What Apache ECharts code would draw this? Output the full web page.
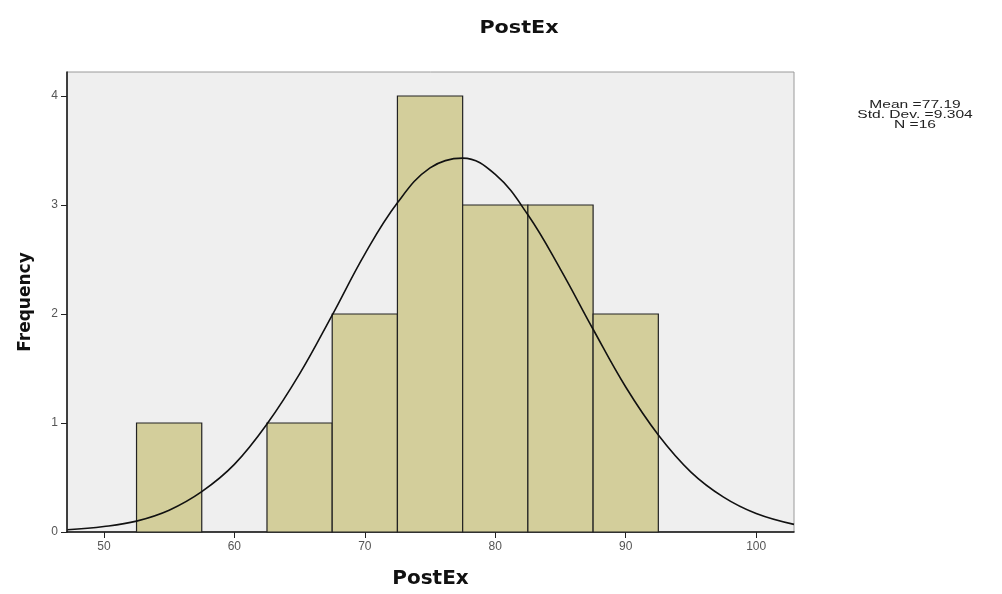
<!DOCTYPE html>
<html>
<head>
<meta charset="utf-8">
<script src="https://cdn.jsdelivr.net/npm/echarts@6/dist/echarts.min.js"></script>
<style>
  html, body { margin: 0; padding: 0; background: #fff; }
  #chart { width: 1002px; height: 594px; }
</style>
</head>
<body>
<div id="chart"></div>
<script>
// histogram bins (lower edge, upper edge) and counts
var binStart = [52.5, 62.5, 67.5, 72.5, 77.5, 82.5, 87.5];
var binEnd   = [57.5, 67.5, 72.5, 77.5, 82.5, 87.5, 92.5];
var counts   = [1, 1, 2, 4, 3, 3, 2];

// normal curve
var curveX = [47.2, 50, 52.5, 55, 57.5, 60, 62.5, 65, 67.5, 70, 72.5, 75, 77.5, 80, 82.5, 85, 87.5, 90, 92.5, 95, 97.5, 100, 102.9];
var curveY = [0.02, 0.05, 0.10, 0.20, 0.37, 0.62, 0.99, 1.45, 1.99, 2.55, 3.02, 3.34, 3.43, 3.28, 2.91, 2.41, 1.86, 1.33, 0.89, 0.55, 0.32, 0.17, 0.07];

var xTicks = [50, 60, 70, 80, 90, 100];
var yTicks = [0, 1, 2, 3, 4];
var statLines = ['Mean =77.19', 'Std. Dev. =9.304', 'N =16'];

var chart = echarts.init(document.getElementById('chart'));

var barData = binStart.map(function (s, i) {
  return [s, binEnd[i], counts[i]];
});
var lineData = curveX.map(function (x, i) {
  return [x, curveY[i]];
});

var option = {
  animation: false,
  backgroundColor: '#fff',
  textStyle: { fontFamily: 'Liberation Sans, Arial, sans-serif' },
  grid: {
    left: 67, right: 208, top: 72, bottom: 60,
    show: true,
    backgroundColor: '#efefef',
    borderColor: '#9a9a9a',
    borderWidth: 1
  },
  xAxis: {
    type: 'value',
    min: 47.17,
    max: 102.9,
    name: 'PostEx',
    nameLocation: 'middle',
    nameGap: 37,
    nameTextStyle: { fontSize: 20, fontWeight: 'bold', color: '#111', fontFamily: 'DejaVu Sans' },
    splitLine: { show: false },
    axisLine: { show: true, onZero: false, lineStyle: { color: '#111', width: 1.5 } },
    axisTick: { show: true, length: 6, customValues: xTicks, lineStyle: { color: '#222' } },
    axisLabel: { customValues: xTicks, color: '#555', fontSize: 12, margin: 9 }
  },
  yAxis: {
    type: 'value',
    min: 0,
    max: 4.22,
    name: 'Frequency',
    nameLocation: 'middle',
    nameGap: 33,
    nameTextStyle: { fontSize: 17, fontWeight: 'bold', color: '#111', fontFamily: 'DejaVu Sans' },
    splitLine: { show: false },
    axisLine: { show: true, lineStyle: { color: '#111', width: 1.5 } },
    axisTick: { show: true, length: 6, customValues: yTicks, lineStyle: { color: '#222' } },
    axisLabel: { customValues: yTicks, color: '#555', fontSize: 12, margin: 9 }
  },
  series: [
    {
      type: 'custom',
      data: barData,
      encode: { x: [0, 1], y: 2 },
      renderItem: function (params, api) {
        var p0 = api.coord([api.value(0), 0]);
        var p1 = api.coord([api.value(1), api.value(2)]);
        return {
          type: 'rect',
          shape: { x: p0[0], y: p1[1], width: p1[0] - p0[0], height: p0[1] - p1[1] },
          style: { fill: '#d3ce9b', stroke: '#222', lineWidth: 1.2 }
        };
      },
      z: 2
    },
    {
      type: 'line',
      data: lineData,
      smooth: 0.4,
      showSymbol: false,
      lineStyle: { color: '#111', width: 1.6 },
      z: 3
    }
  ],
  graphic: [{
    type: 'text',
    x: 519,
    y: 28,
    scaleX: 1.15,
    style: { text: 'PostEx', fill: '#111', font: 'bold 18px DejaVu Sans', textAlign: 'center', textVerticalAlign: 'middle' }
  }].concat(statLines.map(function (t, i) {
    return {
      type: 'text',
      x: 915,
      y: 105 + i * 10,
      scaleX: 1.2,
      scaleY: 0.85,
      style: { text: t, fill: '#222', font: '13px Liberation Sans, Arial, sans-serif', textAlign: 'center', textVerticalAlign: 'middle' }
    };
  }))
};

chart.setOption(option);
</script>
</body>
</html>
